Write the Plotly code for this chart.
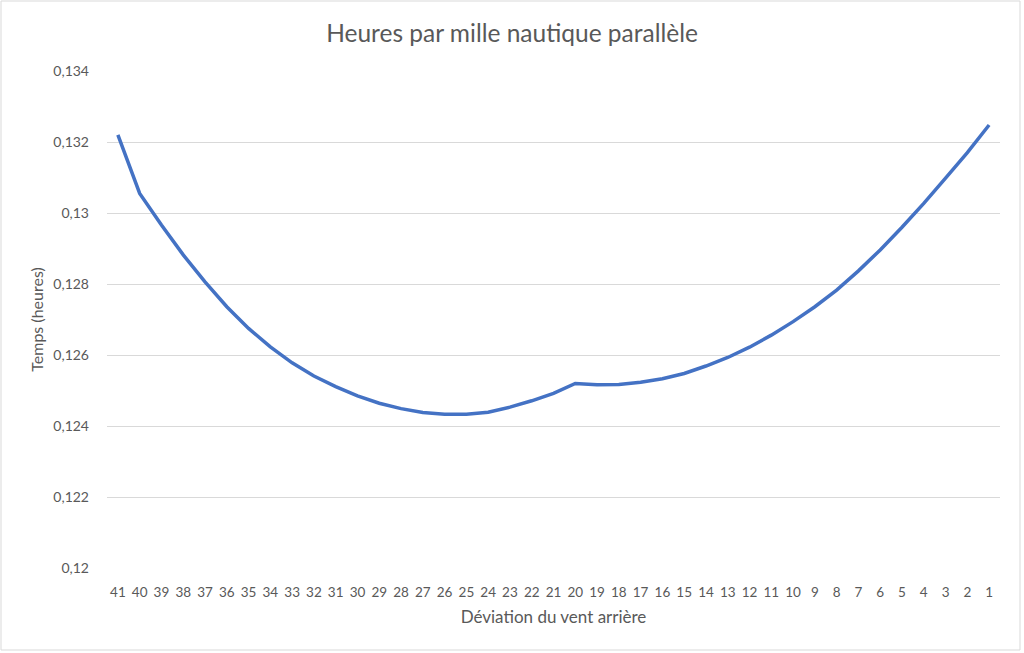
import plotly.graph_objects as go

categories = [str(i) for i in range(41, 0, -1)]
temps = [0.13220, 0.13055, 0.12966, 0.12882, 0.12806, 0.12736, 0.12675, 0.12623,
         0.12578, 0.12541, 0.12511, 0.12485, 0.12464, 0.12449, 0.12438, 0.12433,
         0.12433, 0.12439, 0.12453, 0.12471, 0.12492, 0.12520, 0.12516, 0.12517,
         0.12523, 0.12533, 0.12548, 0.12569, 0.12593, 0.12622, 0.12656, 0.12694,
         0.12736, 0.12783, 0.12837, 0.12896, 0.12960, 0.13027, 0.13098, 0.13170,
         0.13248]
y_tick_vals = [0.120, 0.122, 0.124, 0.126, 0.128, 0.130, 0.132, 0.134]
y_tick_text = ["0,12", "0,122", "0,124", "0,126", "0,128", "0,13", "0,132", "0,134"]

FONT = "Lato"
GRAY = "#595959"

fig = go.Figure()
fig.add_trace(go.Scatter(
    x=categories, y=temps, mode="lines",
    line=dict(color="#4472C4", width=3.5),
    hoverinfo="x+y",
))

fig.update_layout(
    width=1024, height=653,
    paper_bgcolor="white", plot_bgcolor="white",
    margin=dict(l=107, r=24, t=71, b=85),
    showlegend=False,
    font=dict(family=FONT, color=GRAY, size=13),
    title=dict(text="Heures par mille nautique parallèle", x=0.5, xanchor="center",
               y=1 - 33 / 653, yanchor="middle",
               font=dict(family=FONT, size=24.5, color=GRAY)),
    xaxis=dict(
        type="category", range=[-0.5, len(categories) - 0.5],
        showgrid=False, showline=False, zeroline=False,
        ticks="", tickfont=dict(size=13.5, color=GRAY), ticklabelstandoff=14,
        title=dict(text="Déviation du vent arrière", font=dict(size=17, color=GRAY), standoff=12),
    ),
    yaxis=dict(
        range=[0.12, 0.134], tickvals=y_tick_vals, ticktext=y_tick_text,
        showgrid=True, gridcolor="#D9D9D9", gridwidth=1, zeroline=False,
        showline=False, ticks="", ticklabelstandoff=17,
        tickfont=dict(size=14, color=GRAY),
        title=dict(text="Temps (heures)", font=dict(size=16, color=GRAY), standoff=5),
    ),
    shapes=[dict(type="rect", xref="paper", yref="paper",
                 x0=(1 - 107) / 893, x1=(1020 - 107) / 893,
                 y0=(568 - 650) / 497, y1=(568 - 1) / 497,
                 line=dict(color="#D9D9D9", width=1), layer="below")],
)

fig.write_html("out.html", config={"displayModeBar": False},
               post_script="document.body.style.margin='0px';")
